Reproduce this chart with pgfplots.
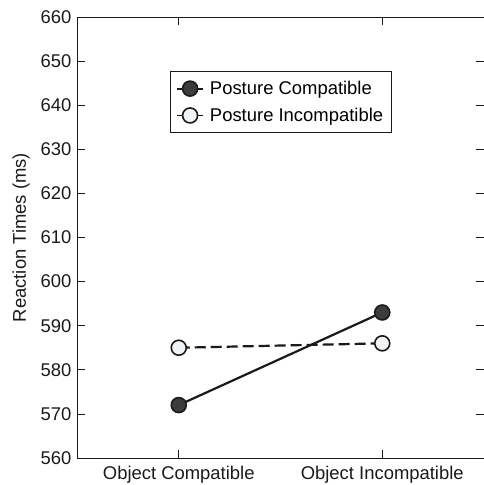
\documentclass[border=0pt]{standalone}
\usepackage{fontspec}
\setmainfont{Liberation Sans}
\usepackage{pgfplots}
\pgfplotsset{compat=1.18}
\definecolor{darkfill}{HTML}{3C3C3C}
\definecolor{lightfill}{HTML}{F2F3F5}
\definecolor{linec}{HTML}{1A1A1A}
\begin{document}
\begin{tikzpicture}
\begin{axis}[
  scale only axis, width=407bp, height=441bp,
  xmin=-0.5, xmax=1.5, ymin=560, ymax=660,
  xtick={0,1}, xticklabels={Object Compatible, Object Incompatible},
  ytick={560,570,...,660},
  tick align=inside, major tick length=8bp,
  tick style={linec, line width=0.8bp},
  axis line style={linec, line width=0.8bp},
  ylabel={Reaction Times (ms)},
  ticklabel style={font=\fontsize{18.5}{22}\selectfont, text=linec},
  yticklabel style={xshift=-2bp},
  xticklabel style={yshift=-5bp},
  label style={font=\fontsize{18.5}{22}\selectfont, text=linec},
  ylabel style={at={(axis description cs:-0.1376,0.5)}, anchor=center},
  /pgf/number format/assume math mode=true,
  legend style={at={(0.228,0.878)}, anchor=north west, draw=linec, line width=0.8bp,
    font=\fontsize{18.5}{22}\selectfont, row sep=8bp, inner xsep=6bp, inner ysep=8bp,
    /tikz/every odd column/.append style={column sep=4bp}},
  legend cell align=left,
  legend image code/.code={\draw[solid, line width=1.8bp, mark repeat=2, mark phase=2] plot coordinates {(0bp,0bp) (13bp,0bp) (26bp,0bp)};},
]
\addplot[linec, line width=2.2bp, mark=*, mark size=7.5bp,
  mark options={solid, fill=darkfill, draw=linec, line width=1.6bp}]
  coordinates {(0,572) (1,593)};
\addlegendentry{Posture Compatible}
\addplot[linec, line width=2.2bp, dash pattern=on 11bp off 5bp, mark=*, mark size=7.5bp,
  mark options={solid, fill=lightfill, draw=linec, line width=1.6bp}]
  coordinates {(0,585) (1,586)};
\addlegendentry{Posture Incompatible}
\end{axis}
\pgfresetboundingbox
\path ([shift={(-77bp,-27bp)}]current axis.south west) rectangle ([shift={(-0.6bp,17bp)}]current axis.north east);
\end{tikzpicture}
\end{document}
